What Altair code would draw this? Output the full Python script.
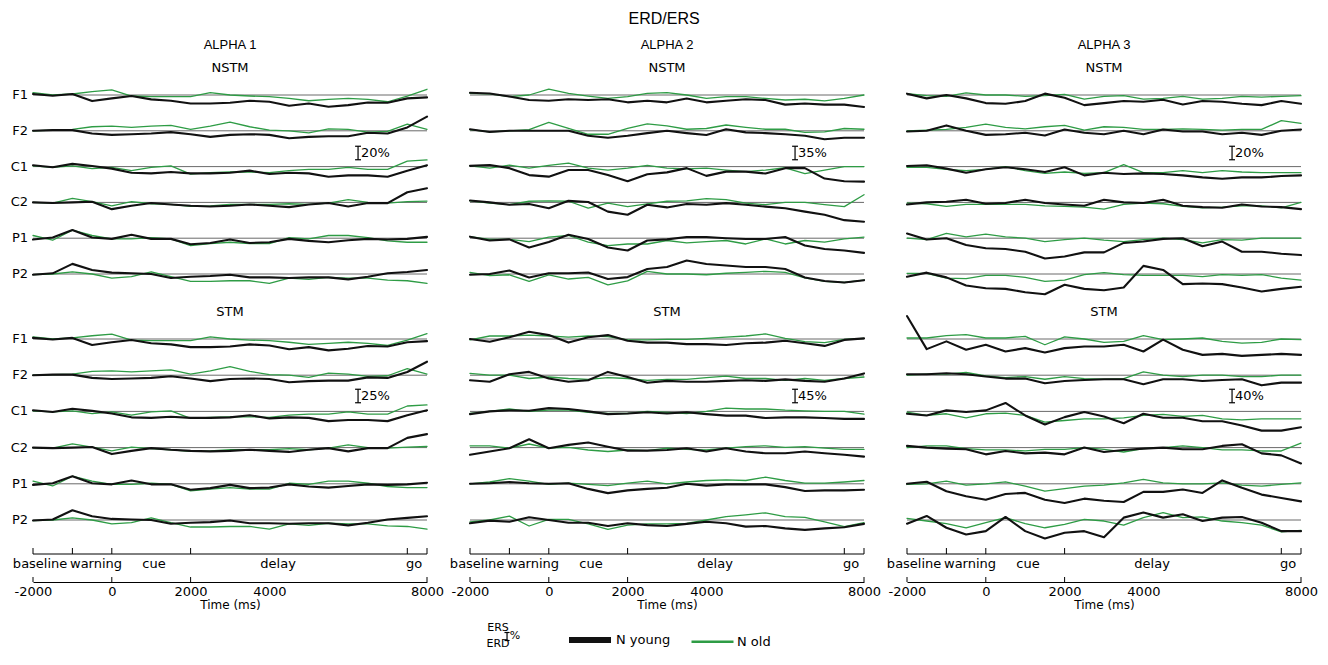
import altair as alt
import pandas as pd

# ------------------------------------------------------------------ data
TIMES = [-2000, -1500, -1000, -500, 0, 500, 1000, 1500, 2000, 2500, 3000,
         3500, 4000, 4500, 5000, 5500, 6000, 6500, 7000, 7500, 8000]
CHANNELS = ["F1", "F2", "C1", "C2", "P1", "P2"]
BANDS = ["ALPHA 1", "ALPHA 2", "ALPHA 3"]
CONDITIONS = ["NSTM", "STM"]
GROUPS = ["N young", "N old"]
SCALE_BAR_NSTM = [20, 35, 20]
SCALE_BAR_STM = [25, 45, 40]
PHASES = ["baseline", "warning", "cue", "delay", "go"]
PHASE_EDGES = [-2000, -1000, 0, 2000, 7500, 8000]
TIME_LABELS = [-2000, 0, 2000, 4000, 8000]
TIME_TICKS = [-2000, 0, 2000, 8000]

# ERD/ERS in % (positive = ERS), one list per channel F1..P2, sampled every 500 ms
A1_NSTM_YOUNG = [
    [1.5, -1, 1.5, -9, -5, -1.5, -6.5, -8.5, -12.5, -12.5, -11.5, -8.5, -10, -16, -12.5, -17.5, -15, -11, -11.5, -5, -3.5],
    [0, 1, 1, -4, -6, -5, -4, -2, -5, -9, -6, -5, -6, -11, -9, -8, -8, -3, -4, 5, 21],
    [2, -1, 4, 1, -3, -9, -10, -8, -10, -10, -9, -6, -11, -9, -10, -15, -13, -13, -15, -6, 2],
    [0, -1, 0, 1, -10, -5, -1, -3, -5, -6, -5, -3, -5, -7, -3, -1, -6, -1, -1, 15, 21],
    [-2, 1, 12, 1, -1, 5, -1, -1, -9, -7, -2, -7, -6, -1, -4, -6, -3, -1, -2, -1, 2],
    [-1, 1, 15, 6, 2, 1, 0, -6, -4, -3, -1, -5, -5, -6, -5, -5, -8, -4, 1, 3, 6],
]
A1_NSTM_OLD = [
    [3.5, 0, 1.5, 5, 7.5, -1.5, -2.5, -2.5, -2.5, 3.5, 0, -1.5, -2.5, -5, -8.5, -6.5, -5, -6.5, -10, -1.5, 8.5],
    [0, 1, 2, 6, 7, 5, 7, 8, 2, 7, 13, 6, 1, 0, -3, 3, 2, -2, -1, 10, 2],
    [1, -1, 1, -3, -1, -6, -1, 1, -11, -9, -8, -8, -9, -6, -4, -4, -1, -4, -4, 8, 10],
    [0, -1, 6, 1, -5, 1, -2, -3, -6, -5, -3, -3, -3, -2, -3, -1, 4, 0, -1, 1, 2],
    [4, -3, 12, 4, -1, -1, 1, -1, -11, -8, -6, -8, -8, 1, -1, 4, 4, 1, -4, -6, -6],
    [-1, 0, 3, 0, -6, -4, 3, -4, -11, -11, -10, -10, -14, -6, -8, -5, -6, -6, -9, -10, -14],
]
A1_STM_YOUNG = [
    [2, -1, 2, -11, -6, -2, -8, -10, -15, -15, -14, -10, -12, -19, -15, -21, -18, -13, -14, -6, -4],
    [0, 1, 1, -5, -7, -6, -5, -2, -6, -11, -7, -6, -7, -13, -11, -10, -10, -4, -5, 6, 25],
    [2, -1, 5, 1, -4, -11, -12, -10, -12, -12, -11, -7, -13, -11, -12, -18, -16, -16, -18, -7, 2],
    [0, -1, 0, 1, -12, -6, -1, -4, -6, -7, -6, -4, -6, -8, -4, -1, -7, -1, -1, 18, 25],
    [-2, 1, 14, 1, -1, 6, -1, -1, -11, -8, -2, -8, -7, -1, -5, -7, -4, -1, -2, -1, 2],
    [-1, 1, 18, 7, 2, 1, 0, -7, -5, -4, -1, -6, -6, -7, -6, -6, -10, -5, 1, 4, 7],
]
A1_STM_OLD = [
    [4, 0, 2, 6, 9, -2, -3, -3, -3, 4, 0, -2, -3, -6, -10, -8, -6, -8, -12, -2, 10],
    [0, 1, 2, 7, 8, 6, 8, 10, 2, 8, 16, 7, 1, 0, -4, 4, 2, -2, -1, 12, 2],
    [1, -1, 1, -4, -1, -7, -1, 1, -13, -11, -10, -10, -11, -7, -5, -5, -1, -5, -5, 10, 12],
    [0, -1, 7, 1, -6, 1, -2, -4, -7, -6, -4, -4, -4, -2, -4, -1, 5, 0, -1, 1, 2],
    [5, -4, 14, 5, -1, -1, 1, -1, -13, -10, -7, -10, -10, 1, -1, 5, 5, 1, -5, -7, -7],
    [-1, 0, 4, 0, -7, -5, 4, -5, -13, -13, -12, -12, -17, -7, -10, -6, -7, -7, -11, -12, -17],
]
A2_NSTM_YOUNG = [
    [6, 4, -4, -13, -15, -11, -13, -11, -19, -15, -19, -9, -19, -15, -11, -13, -25, -22, -25, -25, -31],
    [4, -3, 0, 0, 0, 0, -13, -18, -13, -6, 0, -6, -11, 4, -4, -6, -9, -13, -22, -18, -18],
    [2, 4, -4, -22, -26, -9, -9, -22, -38, -20, -15, -4, -24, -13, -13, -18, -4, -4, -31, -38, -39],
    [5, 0, -6, -4, -15, 4, 1, -24, -32, -6, -13, -4, -6, -2, -6, -11, -15, -24, -32, -46, -50],
    [4, -6, -3, -24, -10, 9, -2, -24, -32, -6, -3, 3, 3, 0, -2, -2, 3, -19, -28, -32, -38],
    [-2, 0, 9, -9, 2, 2, 4, -13, -8, 13, 18, 35, 26, 22, 18, 18, 13, -9, -18, -22, -16],
]
A2_NSTM_OLD = [
    [4, 3, -4, 0, 15, 4, -3, -9, -4, 4, 6, 0, -9, -4, -4, -9, -13, -11, -15, -9, 0],
    [3, -3, 0, 3, 22, 6, -9, -9, 6, 18, 13, 4, 6, 15, 9, 4, 4, -4, -3, 6, 4],
    [2, -4, 4, -4, 3, 9, -4, -9, -4, 3, -4, -6, -4, -9, -13, -9, -3, -18, -9, 0, 0],
    [4, -2, -6, 3, 4, 3, -15, -2, -11, -4, 3, 4, 10, 7, -2, -6, 0, 0, -6, -11, 20],
    [4, -3, -3, -9, 3, 7, -10, -19, -15, -15, -6, -12, -9, -6, -15, -2, -15, -6, -10, -2, 3],
    [4, -4, -2, -19, -2, -13, -9, -28, -18, 7, 0, 0, -2, 2, 4, 7, 4, -10, -19, -22, -16],
]
A2_STM_YOUNG = [
    [0, -9, 6, 24, 13, -12, 6, 13, -6, -12, -12, -17, -17, -20, -14, -12, -6, -14, -23, -3, 2],
    [-17, -22, 3, 11, -11, -22, -17, 11, -6, -25, -19, -22, -22, -19, -17, -19, -14, -19, -22, -11, 6],
    [-9, 0, 4, 2, 11, 8, 0, -9, -7, -3, -7, -3, -9, -14, -14, -22, -20, -20, -22, -25, -25],
    [-24, -13, -2, 28, -2, 9, 17, 3, -10, -10, -8, -2, -13, -2, -13, -19, -19, -13, -19, -24, -30],
    [0, 2, 6, 2, 0, 2, -17, -31, -22, -17, -13, 0, -6, -2, -2, -2, -11, -24, -22, -22, -20],
    [-11, -2, -6, 9, 0, -9, -9, -20, -11, -17, -20, -13, -6, -11, -22, -20, -28, -33, -28, -24, -13],
]
A2_STM_OLD = [
    [-3, 10, 10, 13, 10, 6, 10, 8, -3, -3, -1, -1, 2, 6, 10, 17, 2, -9, -12, -1, 2],
    [6, 0, 0, -11, -6, -11, -14, -8, -11, -17, -14, -14, -8, -3, -11, -11, -17, -11, -17, -11, -6],
    [-7, 0, 8, 0, 4, 4, -3, -7, -7, 0, -3, -7, 0, 11, 8, 8, 4, 2, 0, 0, -9],
    [6, 6, -2, 12, -2, 1, -8, -13, -8, -10, -2, -6, -8, -2, 3, 6, 1, 3, -2, -6, -6],
    [0, 6, 17, 9, -2, 2, -2, -6, 2, 9, 0, 6, 11, 13, 11, 22, 11, 2, 2, 6, 11],
    [-6, 0, 13, -20, 2, 2, -13, -31, -17, -13, -13, -11, 0, 11, 17, 24, 11, 9, -6, -22, -9],
]
A3_NSTM_YOUNG = [
    [2, -5, 0, -5, -12, -13, -9, 2, -4, -15, -12, -9, -10, -7, -14, -9, -10, -13, -15, -9, -13],
    [-1, 0, 8, 0, -6, -5, -3, -7, 2, -3, -5, 0, -5, 2, -1, -1, -5, -3, -6, 0, 2],
    [1, 2, -3, -9, -4, -1, -4, -8, -1, -13, -9, -11, -10, -11, -13, -16, -18, -16, -16, -14, -13],
    [-3, 0, 1, 4, -2, -1, 4, -1, -3, -5, 4, 0, -1, 4, -5, -7, -8, -3, -6, -7, -10],
    [7, -2, 0, -10, -15, -16, -20, -30, -27, -21, -21, -7, -5, -1, 0, -12, -5, -20, -20, -23, -25],
    [-4, 2, -5, -17, -21, -22, -27, -30, -16, -22, -24, -20, 12, 6, -15, -14, -15, -20, -26, -22, -19],
]
A3_NSTM_OLD = [
    [2, -1, -2, 3, 0, 0, -2, -1, 1, -6, -2, -1, -6, -5, -2, -6, -5, -2, -3, -2, -1],
    [0, 1, 2, 5, 10, 5, 3, 6, 8, 1, 6, 5, 2, 2, 3, 2, 1, 2, 2, 15, 11],
    [-1, -1, -4, -6, -4, 0, -6, -10, -8, -10, -9, 3, -9, -9, -6, -9, -6, -8, -9, -9, -9],
    [-1, -2, -6, -3, -3, -3, -3, -5, -6, -7, -10, -3, -1, -2, -6, -8, -7, -5, -5, -8, 0],
    [0, -2, 7, 2, 6, 2, 0, -5, -2, 0, -3, -5, -2, 0, -2, -7, -2, -3, 0, 0, 0],
    [1, 1, -6, -7, -2, -2, -5, -11, -9, -1, 2, -1, -2, -2, -2, -4, -1, -2, -1, -6, -9],
]
A3_STM_YOUNG = [
    [68, -30, -7, -32, -17, -37, -27, -40, -27, -22, -22, -17, -37, -2, -32, -47, -44, -50, -47, -44, -47],
    [3, 3, 6, 3, -4, -10, -10, -24, -17, -14, -12, -12, -27, -12, -12, -17, -14, -12, -30, -22, -22],
    [-7, -12, 3, -2, 3, 25, -12, -39, -17, -2, -15, -35, -7, -19, -19, -29, -29, -42, -57, -57, -47],
    [5, 0, -3, -5, -20, -10, -17, -15, -20, 0, -13, -7, -3, 0, -5, -5, 5, 10, -17, -23, -47],
    [0, 6, -22, -37, -47, -30, -27, -47, -57, -44, -50, -54, -24, -24, -17, -27, 10, -12, -32, -42, -52],
    [-11, 12, -23, -43, -33, 9, -33, -55, -38, -33, -51, 7, 22, 7, 17, -3, 7, 9, -8, -33, -33],
]
A3_STM_OLD = [
    [3, 3, 10, 13, 3, 3, 8, -17, 6, 0, -10, -7, 10, -2, 0, 3, -7, -12, -10, 0, -2],
    [0, 3, 3, 8, -2, -7, -4, -12, -4, -10, -12, -10, 10, 0, -4, 0, 0, -4, -4, 0, 0],
    [-2, -12, -7, -19, -7, -5, -12, -32, -27, -22, -22, -19, -12, -9, -15, -12, -22, -25, -22, -22, -22],
    [0, 5, 5, -3, -7, -7, -10, -5, -5, 0, -5, -13, -3, 0, 5, 0, -7, -7, -10, -10, 13],
    [-2, 0, 8, -4, 0, 6, -7, -22, -14, -7, -4, 3, 13, 3, 0, 0, 3, -4, -7, -2, 3],
    [5, -3, -11, -23, -8, 7, -11, -23, -13, 2, -3, -15, 7, 22, 7, 9, -3, -8, -15, -35, -31],
]

SERIES = {
    ("ALPHA 1", "NSTM", "N young"): A1_NSTM_YOUNG, ("ALPHA 1", "NSTM", "N old"): A1_NSTM_OLD,
    ("ALPHA 1", "STM", "N young"): A1_STM_YOUNG, ("ALPHA 1", "STM", "N old"): A1_STM_OLD,
    ("ALPHA 2", "NSTM", "N young"): A2_NSTM_YOUNG, ("ALPHA 2", "NSTM", "N old"): A2_NSTM_OLD,
    ("ALPHA 2", "STM", "N young"): A2_STM_YOUNG, ("ALPHA 2", "STM", "N old"): A2_STM_OLD,
    ("ALPHA 3", "NSTM", "N young"): A3_NSTM_YOUNG, ("ALPHA 3", "NSTM", "N old"): A3_NSTM_OLD,
    ("ALPHA 3", "STM", "N young"): A3_STM_YOUNG, ("ALPHA 3", "STM", "N old"): A3_STM_OLD,
}

# ------------------------------------------------------------------ layout / style
FONT = "DejaVu Sans"
TFONT = "Liberation Sans"
W, H = 394, 502
ROW0 = {"NSTM": 15.0, "STM": 259.0}
ROW_GAP = {"NSTM": 35.8, "STM": 36.2}
BAR_PX = 13.5
BAR_Y = {"NSTM": 73.0, "STM": 316.0}
BAR_X = 6250
COND_Y = {"NSTM": -12.0, "STM": 232.0}
PHASE_Y = 474.0
PHASE_LABEL_Y = 484.0
PHASE_LABEL_X = [-1820, -400, 1070, 4220, 7670]
YOUNG_C, OLD_C, BASE_C = "#111111", "#2e9c45", "#6a6a6a"

recs = []
for (band, cond, grp), rows in SERIES.items():
    bar = (SCALE_BAR_NSTM if cond == "NSTM" else SCALE_BAR_STM)[BANDS.index(band)]
    for i, vals in enumerate(rows):
        for t, v in zip(TIMES, vals):
            recs.append({"band": band, "cond": cond, "group": grp, "ch": CHANNELS[i],
                         "row0": ROW0[cond] + i * ROW_GAP[cond], "t": t, "v": v, "bar": bar})
lines = pd.DataFrame(recs)
lines["key"] = lines["cond"] + "-" + lines["ch"] + "-" + lines["group"]

rows_df = pd.DataFrame([{"cond": c, "ch": ch, "y": ROW0[c] + i * ROW_GAP[c]}
                        for c in CONDITIONS for i, ch in enumerate(CHANNELS)])
cond_df = pd.DataFrame([{"cond": c, "y": COND_Y[c]} for c in CONDITIONS])
phase_df = pd.DataFrame({"phase": PHASES, "x": PHASE_LABEL_X})
edge_df = pd.DataFrame({"x": PHASE_EDGES})
tick_df = pd.DataFrame({"x": TIME_TICKS})

XS = alt.Scale(domain=[-2000, 8000], nice=False, zero=False)
YS = alt.Scale(domain=[H, 0], nice=False, zero=False)
CS = alt.Scale(domain=GROUPS, range=[YOUNG_C, OLD_C])
SWS = alt.Scale(domain=GROUPS, range=[6, 2.5])


def xaxis():
    return alt.Axis(values=TIME_LABELS, labelExpr="'' + datum.value", ticks=False, grid=False,
                    domain=True, domainColor="#000", domainWidth=1, labelFontSize=13,
                    labelColor="#000", labelFont=FONT, labelPadding=3, labelFlush=False,
                    title="Time (ms)", titleFont=FONT, titleFontSize=12, titleFontWeight="normal",
                    titleColor="#000", titlePadding=1)


def legend():
    return alt.Legend(title=None, orient="none", legendX=533, legendY=536, direction="horizontal",
                      symbolType="stroke", symbolSize=1764,
                      labelFont=FONT, labelFontSize=13, labelColor="#000", labelOffset=2,
                      columnPadding=15)


def xd(v):
    return alt.XDatum(v, type="quantitative", scale=XS, axis=xaxis())


def xf(f):
    return alt.X(f, type="quantitative", scale=XS, axis=xaxis())


def yd(v):
    return alt.YDatum(v, type="quantitative", scale=YS, axis=None)


def yf(f):
    return alt.Y(f, type="quantitative", scale=YS, axis=None)


def column(b):
    band = BANDS[b]
    bars = {"NSTM": SCALE_BAR_NSTM[b], "STM": SCALE_BAR_STM[b]}
    bar_df = pd.DataFrame([{"cond": c, "lab": f"{bars[c]}%", "yc": BAR_Y[c],
                            "y1": BAR_Y[c] - bars[c] * (BAR_PX / bars[c]) / 2,
                            "y2": BAR_Y[c] + bars[c] * (BAR_PX / bars[c]) / 2} for c in CONDITIONS])
    cap_df = pd.DataFrame([{"y": r[k]} for _, r in bar_df.iterrows() for k in ("y1", "y2")])

    base = alt.Chart(rows_df).mark_rule(color=BASE_C, strokeWidth=1).encode(
        x=xd(-2000), x2=alt.X2Datum(8000), y=yf("y"))

    def series(grp, width):
        return alt.Chart(lines).transform_filter(
            (alt.datum.band == band) & (alt.datum.group == grp)
        ).transform_calculate(
            y=f"datum.row0 - datum.v * {BAR_PX} / datum.bar"
        ).mark_line(strokeWidth=width, strokeJoin="round", strokeCap="round").encode(
            x=xf("t"), y=yf("y"),
            color=alt.Color("group:N", scale=CS, legend=legend()),
            detail="key:N")

    old = series("N old", 1.3)
    young = series("N young", 2.1)

    cond_txt = alt.Chart(cond_df).mark_text(fontSize=13, font=FONT, color="#000", baseline="middle").encode(
        x=xd(3000), y=yf("y"), text="cond:N")

    bar_v = alt.Chart(bar_df).mark_rule(color="#000", strokeWidth=1.2).encode(
        x=xd(BAR_X), y=yf("y1"), y2="y2:Q")
    bar_c = alt.Chart(cap_df).mark_rule(color="#000", strokeWidth=1.2).encode(
        x=xd(BAR_X - 75), x2=alt.X2Datum(BAR_X + 75), y=yf("y"))
    bar_t = alt.Chart(bar_df).mark_text(align="left", baseline="middle", dx=3, fontSize=13,
                                        font=FONT, color="#000").encode(
        x=xd(BAR_X), y=yf("yc"), text="lab:N")

    ph_line = alt.Chart(edge_df).transform_filter("datum.x == -2000").mark_rule(
        color="#000", strokeWidth=1).encode(x=xd(-2000), x2=alt.X2Datum(8000), y=yd(PHASE_Y))
    ph_ticks = alt.Chart(edge_df).mark_rule(color="#000", strokeWidth=1).encode(
        x=xf("x"), y=yd(PHASE_Y - 6), y2=alt.Y2Datum(PHASE_Y))
    ph_text = alt.Chart(phase_df).mark_text(fontSize=13, font=FONT, color="#000", baseline="middle").encode(
        x=xf("x"), y=yd(PHASE_LABEL_Y), text="phase:N")
    ax_ticks = alt.Chart(tick_df).mark_rule(color="#000", strokeWidth=1).encode(
        x=xf("x"), y=yd(H - 5), y2=alt.Y2Datum(H))

    layers = [base, old, young, cond_txt, bar_v, bar_c, bar_t, ph_line, ph_ticks, ph_text, ax_ticks]

    if b == 0:
        layers.append(alt.Chart(rows_df).mark_text(align="right", baseline="middle", dx=-5, fontSize=13,
                                                   font=FONT, color="#000").encode(
            x=xd(-2000), y=yf("y"), text="ch:N"))
        # empty layer that carries the line-width channel into the shared legend
        layers.append(alt.Chart(lines).transform_filter("datum.t < -5000").mark_line(strokeCap="butt").encode(
            x=xf("t"), y=yf("v"),
            color=alt.Color("group:N", scale=CS, legend=legend()),
            strokeWidth=alt.StrokeWidth("group:N", scale=SWS, legend=legend()),
            detail="key:N"))
    if b == 1:
        key_df = pd.DataFrame([{"txt": "ERS", "y": 547.5}, {"txt": "ERD", "y": 564.0}])
        layers.append(alt.Chart(key_df).mark_text(fontSize=11, font=FONT, color="#000", baseline="middle").encode(
            x=xd(-1290), y=yf("y"), text="txt:N"))
        pct_df = pd.DataFrame([{"txt": "%", "y": 556.0}])
        layers.append(alt.Chart(pct_df).mark_text(fontSize=11, font=FONT, color="#000", baseline="middle",
                                                  align="left").encode(
            x=xd(-990), y=yf("y"), text="txt:N"))
        key_bar = pd.DataFrame([{"y1": 552.5, "y2": 560.5}])
        layers.append(alt.Chart(key_bar).mark_rule(color="#000", strokeWidth=1.2).encode(
            x=xd(-1060), y=yf("y1"), y2="y2:Q"))
        key_caps = pd.DataFrame([{"y": 552.5}, {"y": 560.5}])
        layers.append(alt.Chart(key_caps).mark_rule(color="#000", strokeWidth=1.2).encode(
            x=xd(-1125), x2=alt.X2Datum(-995), y=yf("y")))

    return alt.layer(*layers).properties(
        width=W, height=H,
        title=alt.TitleParams(band, fontSize=13, font=TFONT, fontWeight="normal", color="#000",
                              anchor="middle", frame="group", offset=10))


chart = alt.hconcat(column(0), column(1), column(2), spacing=43, bounds="flush").properties(
    title=alt.TitleParams("ERD/ERS", fontSize=16, font=TFONT, fontWeight="normal", color="#000",
                          anchor="middle", frame="bounds", offset=12),
    padding={"left": 2, "top": 3, "right": 0, "bottom": 2},
).configure_view(stroke=None)

chart.save("out.html", embed_options={"renderer": "svg", "actions": False})
